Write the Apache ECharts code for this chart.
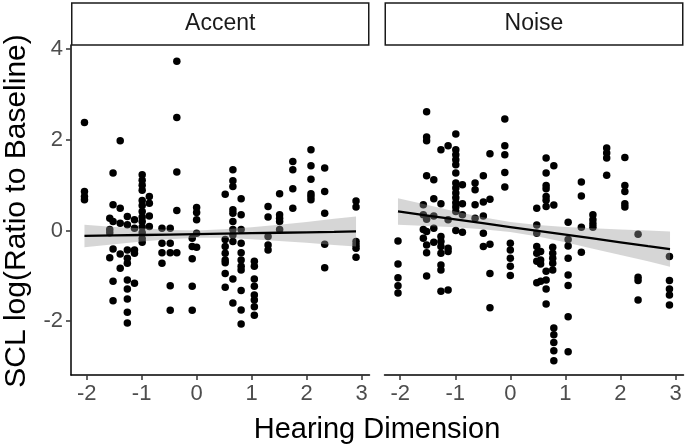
<!DOCTYPE html>
<html><head><meta charset="utf-8">
<script src="https://cdn.jsdelivr.net/npm/echarts@6/dist/echarts.min.js"></script>
<style>html,body{margin:0;padding:0;background:#fff}#c{width:685px;height:448px}</style>
</head><body><div id="c"></div>
<script>
const panels = ['Accent', 'Noise'];
const xTicks = [-2, -1, 0, 1, 2, 3];
const yTicks = [-2, 0, 2, 4];
const xTitle = 'Hearing Dimension';
const yTitle = 'SCL log(Ratio to Baseline)';

// Accent panel: hearing dimension per participant, SCL values per trial
const accentHD = [-2.04, -1.58, -1.52, -1.39, -1.26, -1.13, -0.99, -0.86, -0.63, -0.48, -0.36, -0.08, 0.00, 0.52, 0.66, 0.81, 1.05, 1.30, 1.51, 1.75, 2.08, 2.33, 2.90];
const accentSCL = [
  [2.38, 0.86, 0.75, 0.68],
  [0.27, 0.02, -0.05, -0.60],
  [1.27, 0.57, 0.20, -0.41, -1.12, -1.55],
  [1.98, 0.49, 0.16, -0.52, -0.83],
  [0.31, 0.13, -0.43, -0.61, -0.72, -1.09, -1.29, -1.51, -1.80, -2.04],
  [0.24, 0.05, -0.43, -0.50, -1.16],
  [1.23, 1.11, 1.00, 0.89, 0.66, 0.55, 0.42, 0.30, 0.20, 0.08, -0.05, -0.18, -0.26],
  [0.75, 0.60, 0.32, 0.09],
  [0.05, -0.28, -0.49, -0.72],
  [0.05, -0.28, -0.49, -1.22, -1.76],
  [3.73, 2.49, 1.29, 0.44, -0.49],
  [-0.17, -0.35, -0.62, -1.23, -1.76],
  [0.51, 0.40, 0.24, -0.06, -0.37],
  [0.80, -0.20, -0.35, -0.50, -0.65, -0.71, -0.95, -1.25],
  [1.34, 1.10, 0.97, 0.46, 0.38, 0.20, 0.02, -0.10, -0.24, -1.07, -1.60],
  [0.70, 0.35, 0.02, -0.28, -0.49, -0.65, -0.79, -0.87, -1.32, -1.75, -2.06],
  [-0.68, -0.79, -1.07, -1.23, -1.42, -1.53, -1.68, -1.87],
  [0.53, 0.30, -0.13, -0.32, -0.43],
  [0.81, 0.35, 0.27, 0.20, 0.02],
  [1.52, 1.34, 0.92, 0.49],
  [1.78, 1.43, 1.13, 0.81, 0.75, 0.68],
  [1.38, 0.86, 0.38, -0.30, -0.82],
  [0.65, 0.52, -0.24, -0.32, -0.39, -0.59]
];

// Noise panel
const noiseHD = [-2.04, -1.58, -1.52, -1.39, -1.26, -1.13, -0.99, -0.87, -0.64, -0.49, -0.37, -0.10, 0.00, 0.48, 0.55, 0.65, 0.77, 0.79, 1.05, 1.29, 1.50, 1.75, 2.08, 2.32, 2.89];
const noiseSCL = [
  [-0.23, -0.74, -1.04, -1.22, -1.38],
  [0.57, 0.35, 0.02, -0.17],
  [2.62, 2.06, 1.98, 1.21, 0.25, -0.02, -0.32, -0.49, -1.00],
  [1.12, 0.70, 0.32, 0.05, -0.26],
  [1.78, 0.59, -0.13, -0.24, -0.35, -0.50, -0.76, -0.87, -1.34],
  [1.87, 0.24, -0.39, -0.46, -1.31],
  [2.13, 1.78, 1.67, 1.56, 1.45, 1.27, 1.05, 0.94, 0.83, 0.72, 0.61, 0.52, 0.42, 0.00],
  [1.01, 0.59, 0.35, -0.04],
  [1.05, 0.90, 0.57, 0.27],
  [1.21, 0.63, 0.32, -0.06, -0.35],
  [1.69, 0.69, -0.30, -0.95, -1.70],
  [2.46, 1.87, 1.67, 1.28, 0.96],
  [-0.28, -0.43, -0.61, -0.79, -0.99],
  [0.49, 0.12, -0.06, -0.35, -0.50, -0.68, -1.15],
  [-0.46, -0.65, -0.74, -1.12],
  [1.60, 1.27, 0.99, 0.92, 0.75, 0.67, 0.53, -0.90, -1.09, -1.29, -1.62],
  [-0.37, -0.50, -0.61, -0.72, -0.87],
  [1.43, 0.56, -2.15, -2.30, -2.47, -2.65, -2.87],
  [0.18, -0.20, -0.34, -0.61, -0.98, -1.21, -1.90, -2.67],
  [1.07, 0.76, 0.07, -0.48],
  [0.35, 0.24, 0.15, 0.07],
  [1.82, 1.71, 1.60, 1.22],
  [1.61, 0.99, 0.86, 0.59, 0.52],
  [-0.08, -1.03, -1.10, -1.53],
  [-0.57, -1.10, -1.29, -1.42, -1.64]
];

// Linear fit and 95% confidence band
const bandHD = [-2.04, -1.5, -1, -0.5, 0, 0.5, 1, 1.5, 2, 2.5, 2.9];
const accentFit = [-0.12, -0.109, -0.099, -0.089, -0.079, -0.069, -0.059, -0.049, -0.039, -0.029, -0.02];
const accentLo = [-0.37, -0.30, -0.24, -0.19, -0.16, -0.16, -0.19, -0.23, -0.27, -0.32, -0.35];
const accentHi = [0.13, 0.08, 0.05, 0.01, 0.00, 0.03, 0.07, 0.13, 0.19, 0.26, 0.31];
const noiseFit = [0.42, 0.329, 0.245, 0.161, 0.077, -0.007, -0.091, -0.175, -0.259, -0.343, -0.41];
const noiseLo = [0.13, 0.10, 0.07, 0.03, -0.03, -0.13, -0.26, -0.40, -0.54, -0.68, -0.80];
const noiseHi = [0.71, 0.56, 0.42, 0.29, 0.19, 0.12, 0.08, 0.05, 0.02, 0.00, -0.02];

const FONT = '"Liberation Sans", Arial, Helvetica, sans-serif';
const chart = echarts.init(document.getElementById('c'), null, {renderer: 'canvas'});

function flatten(hd, scl) {
  const out = [];
  hd.forEach((x, i) => scl[i].forEach(y => out.push([x, y])));
  return out;
}

const panelDefs = [
  {hd: accentHD, scl: accentSCL, fit: accentFit, lo: accentLo, hi: accentHi},
  {hd: noiseHD, scl: noiseSCL, fit: noiseFit, lo: noiseLo, hi: noiseHi}
];

const grids = [
  {left: 71, top: 45, width: 298.5, height: 330},
  {left: 384.5, top: 45, width: 299, height: 330}
];

const xAxes = grids.map((g, i) => ({
  type: 'value', gridIndex: i, min: -2.285, max: 3.145,
  axisLine: {show: true, onZero: false, lineStyle: {color: '#000', width: 1.5}},
  axisTick: {show: true, length: 5, customValues: xTicks, lineStyle: {color: '#333', width: 1.5}},
  axisLabel: {show: true, customValues: xTicks, margin: 8, color: '#4d4d4d', fontSize: 22, fontFamily: FONT},
  splitLine: {show: false}
}));

const yAxes = grids.map((g, i) => ({
  type: 'value', gridIndex: i, min: -3.185, max: 4.09,
  axisLine: {show: i === 0, onZero: false, lineStyle: {color: '#000', width: 1.5}},
  axisTick: {show: i === 0, length: 5, customValues: yTicks, lineStyle: {color: '#333', width: 1.5}},
  axisLabel: {show: i === 0, customValues: yTicks, margin: 8, color: '#4d4d4d', fontSize: 22, fontFamily: FONT},
  splitLine: {show: false}
}));

const series = [];
panelDefs.forEach((p, i) => {
  series.push({
    type: 'scatter', xAxisIndex: i, yAxisIndex: i,
    data: flatten(p.hd, p.scl),
    symbol: 'circle', symbolSize: 7.5,
    itemStyle: {color: '#000', opacity: 1},
    z: 2, silent: true, animation: false
  });
  const bandData = bandHD.map((x, k) => [x, p.lo[k], p.hi[k]]);
  series.push({
    type: 'custom', xAxisIndex: i, yAxisIndex: i,
    data: bandData,
    encode: {x: 0, y: [1, 2]},
    clip: true, z: 3, silent: true, animation: false,
    renderItem: function (params, api) {
      if (params.dataIndex !== 0) return null;
      const pts = [];
      bandData.forEach(d => pts.push(api.coord([d[0], d[2]])));
      for (let k = bandData.length - 1; k >= 0; k--) pts.push(api.coord([bandData[k][0], bandData[k][1]]));
      return {type: 'polygon', shape: {points: pts}, style: {fill: 'rgba(153,153,153,0.4)', stroke: null}};
    }
  });
  series.push({
    type: 'line', xAxisIndex: i, yAxisIndex: i,
    data: bandHD.map((x, k) => [x, p.fit[k]]),
    symbol: 'none', lineStyle: {color: '#000', width: 2.3},
    z: 4, silent: true, animation: false
  });
});

const graphics = [];
grids.forEach((g, i) => {
  graphics.push({
    type: 'rect', shape: {x: g.left + 0.75, y: 3, width: g.width - 1.5, height: 42},
    style: {fill: '#fff', stroke: '#1a1a1a', lineWidth: 1.5}, z: 10
  });
  graphics.push({
    type: 'text', x: g.left + g.width / 2, y: 24,
    style: {text: panels[i], fill: '#1a1a1a', font: '23px ' + FONT, textAlign: 'center', textVerticalAlign: 'middle'}, z: 11
  });
});
graphics.push({
  type: 'text', x: 377, y: 430,
  style: {text: xTitle, fill: '#000', font: '29px ' + FONT, textAlign: 'center', textVerticalAlign: 'middle'}
});
graphics.push({
  type: 'text', x: 17, y: 211, rotation: Math.PI / 2,
  style: {text: yTitle, fill: '#000', font: '30px ' + FONT, textAlign: 'center', textVerticalAlign: 'middle'}
});

chart.setOption({
  animation: false,
  backgroundColor: '#fff',
  grid: grids,
  xAxis: xAxes,
  yAxis: yAxes,
  series: series,
  graphic: graphics
});
</script>
</body></html>
